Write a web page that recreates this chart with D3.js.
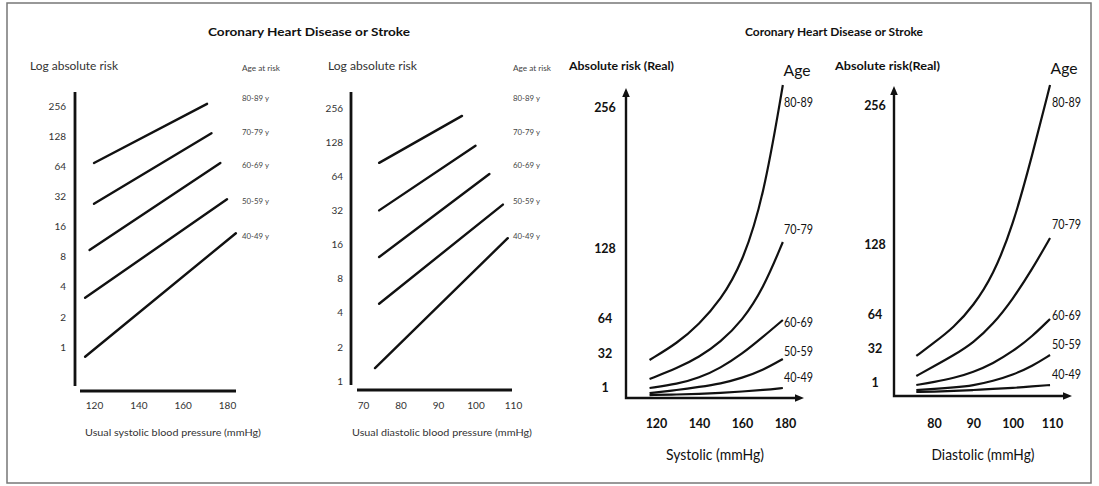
<!DOCTYPE html>
<html>
<head>
<meta charset="utf-8">
<script src="https://cdn.jsdelivr.net/npm/d3@7"></script>
<style>
  html, body { margin: 0; padding: 0; background: #fff; }
  svg { display: block; font-family: Lato, "Open Sans", "DejaVu Sans", sans-serif; }
</style>
</head>
<body>
<svg id="fig" width="1099" height="486"></svg>
<script>
// ---------- data ----------
const ageGroups = ["80-89", "70-79", "60-69", "50-59", "40-49"];
const logRiskTicks = [1, 2, 4, 8, 16, 32, 64, 128, 256];
const realRiskTicks = [1, 32, 64, 128, 256];
const systolicTicks = [120, 140, 160, 180];
const diastolicLogTicks = [70, 80, 90, 100, 110];
const diastolicRealTicks = [80, 90, 100, 110];

// log-scale panels: one straight line per age band (start -> end)
const sysLogBpStart   = [120, 120, 118, 116, 116];
const sysLogBpEnd     = [171, 173, 177, 180, 184];
const sysLogRiskStart = [69, 27, 9.3, 3.1, 0.8];
const sysLogRiskEnd   = [269, 137, 69, 30, 13.7];

const diaLogBpStart   = [74.3, 74.3, 74.3, 74.3, 73.2];
const diaLogBpEnd     = [96.4, 100, 103.7, 107.3, 108.6];
const diaLogRiskStart = [84, 32, 12.4, 4.8, 1.3];
const diaLogRiskEnd   = [218, 119, 67, 36, 18.2];

// real-scale panels: risk along blood pressure, one row per age band
const sysRealBp = [117, 130, 140, 150, 160, 170, 179];
const sysRealRisk = [
  [34.6, 50, 67, 89, 122, 182, 284.8],
  [17.3, 27.3, 37, 51, 70, 100, 142],
  [9.1, 12.7, 18.2, 27.3, 40, 56, 71],
  [4.5, 7.3, 10, 13, 18.2, 25.5, 35.5],
  [2.7, 3.2, 3.6, 4.5, 5.9, 7.3, 9.1]
];
const diaRealBp = [75.5, 80, 85, 90, 95, 100, 105, 109.5];
const diaRealRisk = [
  [36.9, 49, 63, 83, 111, 156, 222, 286.6],
  [18.4, 27.4, 37.5, 49, 66, 89, 117, 145.6],
  [10.1, 12.9, 16.5, 22, 30, 41, 55, 71],
  [5.5, 6.5, 7.8, 9.7, 13.8, 19.4, 27.6, 37.8],
  [3.7, 4.1, 4.6, 5.5, 6.5, 7.4, 8.8, 10.1]
];

// ---------- drawing ----------
const FONT = 'Lato, "Open Sans", "DejaVu Sans", sans-serif';
const svg = d3.select("#fig");

svg.append("rect")
  .attr("x", 7).attr("y", 3).attr("width", 1084).attr("height", 480)
  .attr("fill", "none").attr("stroke", "#777").attr("stroke-width", 1.5);

function addText(parent, str, x, y, o = {}) {
  const t = parent.append("text")
    .attr("x", x).attr("y", y).attr("dy", "0.35em")
    .attr("text-anchor", o.anchor || "start")
    .attr("font-size", o.size || 10)
    .attr("font-weight", o.weight || 400)
    .attr("fill", o.fill || "#222")
    .text(str);
  if (o.width) t.attr("textLength", o.width).attr("lengthAdjust", "spacingAndGlyphs");
  return t;
}

function styleAxis(sel, size, weight, fill) {
  sel.select(".domain").remove();
  sel.attr("font-family", FONT).attr("font-size", size).attr("font-weight", weight)
     .attr("fill", null).style("color", fill);
}

addText(svg, "Coronary Heart Disease or Stroke", 208, 32, { size: 12, weight: 700, width: 202, fill: "#111" });
addText(svg, "Coronary Heart Disease or Stroke", 745, 32, { size: 12, weight: 700, width: 178, fill: "#111" });

function logPanel(c) {
  const g = svg.append("g");
  const x = d3.scaleLinear().domain(c.xDomain).range(c.xRange);
  const y = d3.scaleLog().base(2).domain([1, 256]).range(c.yRange);

  g.append("line").attr("x1", c.axisX).attr("x2", c.axisX).attr("y1", c.axisTop).attr("y2", c.axisBottom)
    .attr("stroke", "#111").attr("stroke-width", 2.8);
  g.append("line").attr("x1", c.xAxisFrom).attr("x2", c.xAxisTo).attr("y1", c.xAxisY).attr("y2", c.xAxisY)
    .attr("stroke", "#111").attr("stroke-width", 2.8);

  g.append("g").attr("transform", `translate(${c.axisX},0)`)
    .call(d3.axisLeft(y).tickValues(logRiskTicks).tickFormat(d3.format("d")).tickSize(0).tickPadding(c.yPad))
    .call(s => styleAxis(s, 10, 400, "#333"));
  g.append("g").attr("transform", `translate(0,${c.xAxisY})`)
    .call(d3.axisBottom(x).tickValues(c.xTicks).tickSize(0).tickPadding(c.xPad))
    .call(s => styleAxis(s, 10, 400, "#333"));

  const rows = ageGroups.map((a, i) => ({ a, x0: c.bp0[i], x1: c.bp1[i], y0: c.r0[i], y1: c.r1[i] }));
  g.selectAll("line.band").data(rows).join("line").attr("class", "band")
    .attr("x1", d => x(d.x0)).attr("x2", d => x(d.x1))
    .attr("y1", d => y(d.y0)).attr("y2", d => y(d.y1))
    .attr("stroke", "#111").attr("stroke-width", 2.4).attr("stroke-linecap", "round");

  addText(g, "Log absolute risk", c.titleX, 66, { size: 12, width: c.titleW, fill: "#333" });
  addText(g, c.xTitle, c.xTitleX, 432, { size: 10, width: c.xTitleW, fill: "#333" });
  addText(g, "Age at risk", c.ageX, 69, { size: 7, width: 38, fill: "#444" });
  ageGroups.forEach((a, i) => addText(g, a + " y", c.ageX, c.ageY[i], { size: 7, width: 27, fill: "#444" }));
}

function realPanel(c) {
  const g = svg.append("g");
  const x = d3.scaleLinear().domain(c.xDomain).range(c.xRange);
  const y = d3.scaleLinear().domain([0, 256]).range(c.yRange);

  // axes with arrowheads
  g.append("path")
    .attr("d", `M${c.axisX},${c.yTip + 8}V${c.axisY}H${c.xTip - 8}`)
    .attr("fill", "none").attr("stroke", "#111").attr("stroke-width", 2.4);
  g.append("path")
    .attr("d", `M${c.axisX},${c.yTip}l-3.8,9h7.6Z M${c.xTip},${c.axisY}l-9,-3.8v7.6Z`)
    .attr("fill", "#111");

  g.append("g").attr("transform", `translate(${c.axisX},0)`)
    .call(d3.axisLeft(y).tickValues(realRiskTicks).tickSize(0))
    .call(s => styleAxis(s, 12.5, 700, "#111"))
    .selectAll("text").attr("text-anchor", "middle").attr("x", c.yLabelX - c.axisX).attr("y", c.yLabelShift);
  g.append("g").attr("transform", `translate(0,${c.axisY})`)
    .call(d3.axisBottom(x).tickValues(c.xTicks).tickSize(0).tickPadding(c.xPad))
    .call(s => styleAxis(s, 12.5, 700, "#111"));

  const line = d3.line().x(d => x(d[0])).y(d => y(d[1])).curve(d3.curveBasis);
  g.selectAll("path.band").data(c.risk).join("path").attr("class", "band")
    .attr("d", r => line(c.bp.map((b, j) => [b, r[j]])))
    .attr("fill", "none").attr("stroke", "#111").attr("stroke-width", 2.2);

  addText(g, c.yTitle, c.yTitleX, 66, { size: 12, weight: 700, width: 105, fill: "#111" });
  addText(g, "Age", c.ageHeadX, c.ageHeadY, { size: 16, anchor: "middle", width: 27, fill: "#111" });
  ageGroups.forEach((a, i) => addText(g, a, c.ageX, c.ageY[i], { size: 12.5, width: 29, fill: "#111" }));
  addText(g, c.xTitle, c.xTitleCx, 455, { size: 15, anchor: "middle", width: c.xTitleW, fill: "#111" });
}

logPanel({
  xDomain: [120, 180], xRange: [94, 227], yRange: [347, 106],
  axisX: 75, axisTop: 92, axisBottom: 386, xAxisY: 391, xAxisFrom: 80, xAxisTo: 236,
  yPad: 9, xPad: 10.5, xTicks: systolicTicks,
  bp0: sysLogBpStart, bp1: sysLogBpEnd, r0: sysLogRiskStart, r1: sysLogRiskEnd,
  titleX: 30, titleW: 88, xTitle: "Usual systolic blood pressure (mmHg)", xTitleX: 85, xTitleW: 176,
  ageX: 242, ageY: [99, 133, 166, 202, 237]
});

logPanel({
  xDomain: [70, 110], xRange: [363, 513], yRange: [381, 108],
  axisX: 351, axisTop: 92, axisBottom: 385, xAxisY: 390, xAxisFrom: 357, xAxisTo: 512,
  yPad: 8, xPad: 11.5, xTicks: diastolicLogTicks,
  bp0: diaLogBpStart, bp1: diaLogBpEnd, r0: diaLogRiskStart, r1: diaLogRiskEnd,
  titleX: 328, titleW: 89, xTitle: "Usual diastolic blood pressure (mmHg)", xTitleX: 352, xTitleW: 180,
  ageX: 513, ageY: [99, 133, 166, 202, 237]
});

realPanel({
  xDomain: [120, 180], xRange: [656, 785], yRange: [398, 116.7],
  axisX: 626, axisY: 398, yTip: 88, xTip: 804,
  yLabelX: 605, yLabelShift: -9, xPad: 21.5, xTicks: systolicTicks,
  bp: sysRealBp, risk: sysRealRisk,
  yTitle: "Absolute risk (Real)", yTitleX: 569,
  ageHeadX: 797, ageHeadY: 70, ageX: 784, ageY: [103, 230, 323, 352, 378],
  xTitle: "Systolic (mmHg)", xTitleCx: 715, xTitleW: 98
});

realPanel({
  xDomain: [80, 110], xRange: [934, 1052], yRange: [396, 118.2],
  axisX: 894, axisY: 396, yTip: 86, xTip: 1072,
  yLabelX: 875, yLabelShift: -12.4, xPad: 23.5, xTicks: diastolicRealTicks,
  bp: diaRealBp, risk: diaRealRisk,
  yTitle: "Absolute risk(Real)", yTitleX: 835,
  ageHeadX: 1064, ageHeadY: 68, ageX: 1052, ageY: [103, 225, 316, 345, 375],
  xTitle: "Diastolic (mmHg)", xTitleCx: 983, xTitleW: 103
});
</script>
</body>
</html>
